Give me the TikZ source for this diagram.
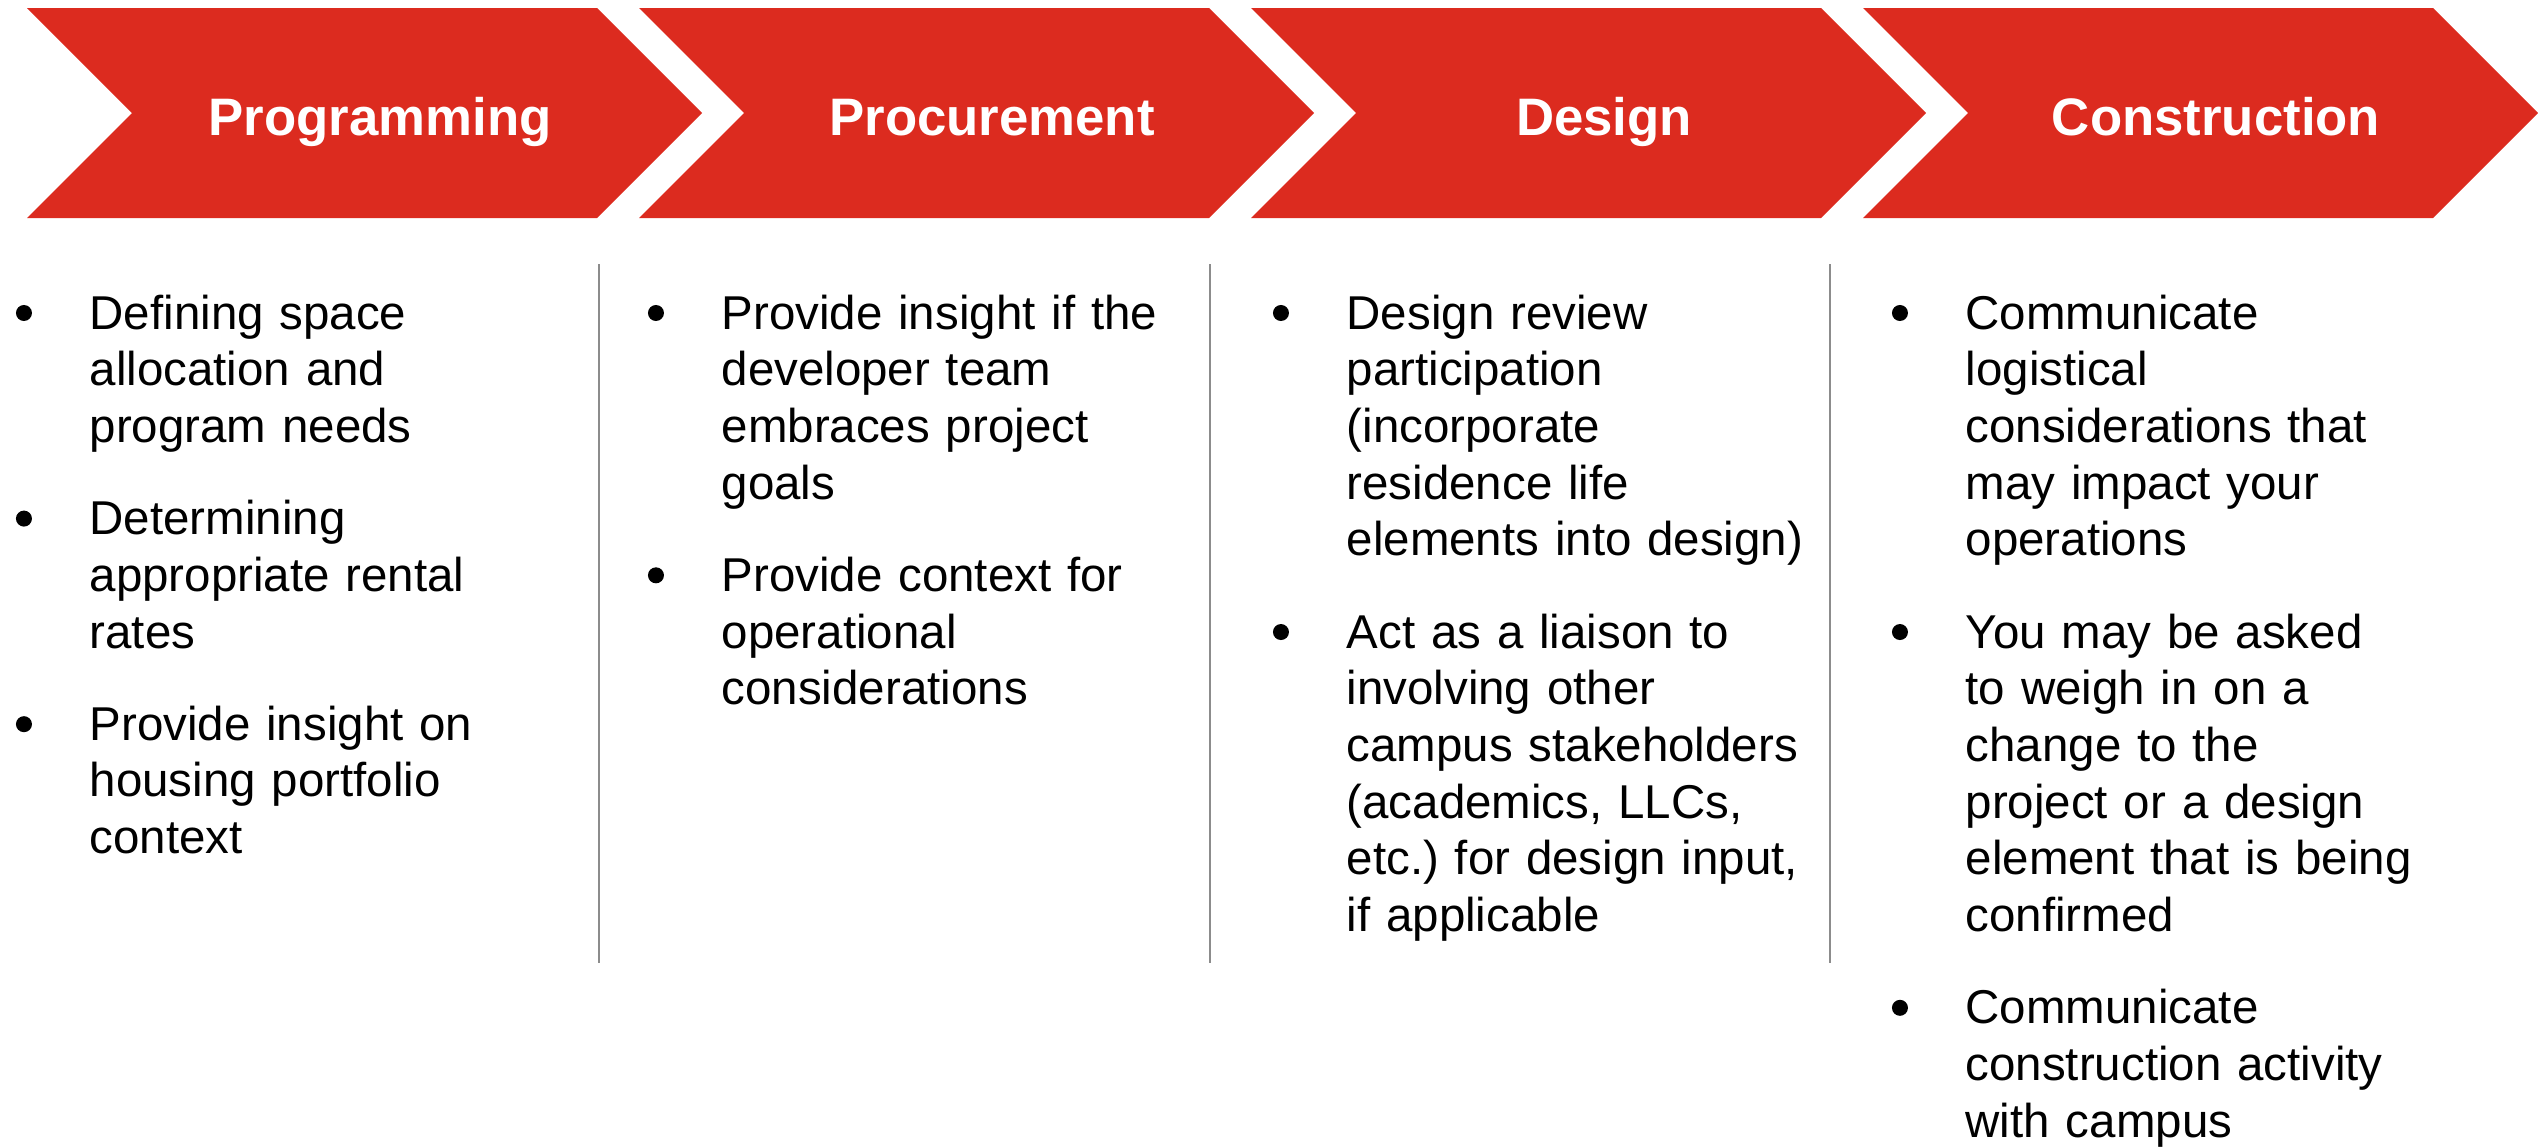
\documentclass[tikz,border=0pt]{standalone}
\usepackage{fontspec}
\setmainfont{Liberation Sans}
\usetikzlibrary{positioning}
\definecolor{chevred}{RGB}{220,43,31}
\definecolor{sepgray}{RGB}{140,140,140}
\frenchspacing

\begin{document}
\begin{tikzpicture}[x=0.01cm,y=-0.01cm,node distance=0.34cm,
	chev/.style={
	  fill=chevred,
	  draw=none
	},
	headb/.style={
	  text=white,
	  font=\fontsize{15}{18}\selectfont\bfseries,
	  inner sep=0pt,
	  anchor=base
	},
	itemb/.style={
	  text width=4.8cm,
	  align=left,
	  inner sep=0pt,
	  font=\fontsize{13.5}{16.13}\selectfont\frenchspacing,
	  execute at begin node=\strut,
	  execute at end node=\strut
	},
	dotb/.style={
	  circle,
	  fill=black,
	  inner sep=0pt,
	  minimum size=0.16cm
	},
	sepline/.style={
	  draw=sepgray,
	  line width=0.8pt
	}]

	\useasboundingbox (0,0) rectangle (2538,1148);

	% chevrons
	\foreach \nm/\ttl [count=\i from 0] in {prog/Programming,proc/Procurement,desg/Design,cons/Construction}{
	  \pgfmathsetmacro{\x}{27+612*\i}
	  \fill[chev] (\x,8) -- ({\x+570},8) -- ({\x+675},113) -- ({\x+570},218) -- (\x,218) -- ({\x+105},113) -- cycle;
	  \node[headb] (\nm) at ({\x+353},135) {\ttl};
	}

	\foreach \sx in {599,1210,1830}
	  \draw[sepline] (\sx,264) -- (\sx,963);

	\node[itemb,anchor=base west] (prog1) at (89,329) {Defining space\\allocation and\\program needs};
	\node[itemb,below=of prog1] (prog2) {Determining\\appropriate rental\\rates};
	\node[itemb,below=of prog2] (prog3) {Provide insight on\\housing portfolio\\context};

	\node[itemb,anchor=base west] (proc1) at (721,329) {Provide insight if the\\developer team\\embraces project\\goals};
	\node[itemb,below=of proc1] (proc2) {Provide context for\\operational\\considerations};

	\node[itemb,anchor=base west] (desg1) at (1346,329) {Design review\\participation\\(incorporate\\residence life\\elements into design)};
	\node[itemb,below=of desg1] (desg2) {Act as a liaison to\\involving other\\campus stakeholders\\(academics, LLCs,\\etc.) for design input,\\if applicable};

	\node[itemb,anchor=base west] (cons1) at (1965,329) {Communicate\\logistical\\considerations that\\may impact your\\operations};
	\node[itemb,below=of cons1] (cons2) {You may be asked\\to weigh in on a\\change to the\\project or a design\\element that is being\\confirmed};
	\node[itemb,below=of cons2] (cons3) {Communicate\\construction activity\\with campus};

	% bullets
	\foreach \it in {prog1,prog2,prog3,proc1,proc2,desg1,desg2,cons1,cons2,cons3}
	  \node[dotb] at ([xshift=-0.65cm,yshift=0.16cm]\it.base west) {};
\end{tikzpicture}
\end{document}
